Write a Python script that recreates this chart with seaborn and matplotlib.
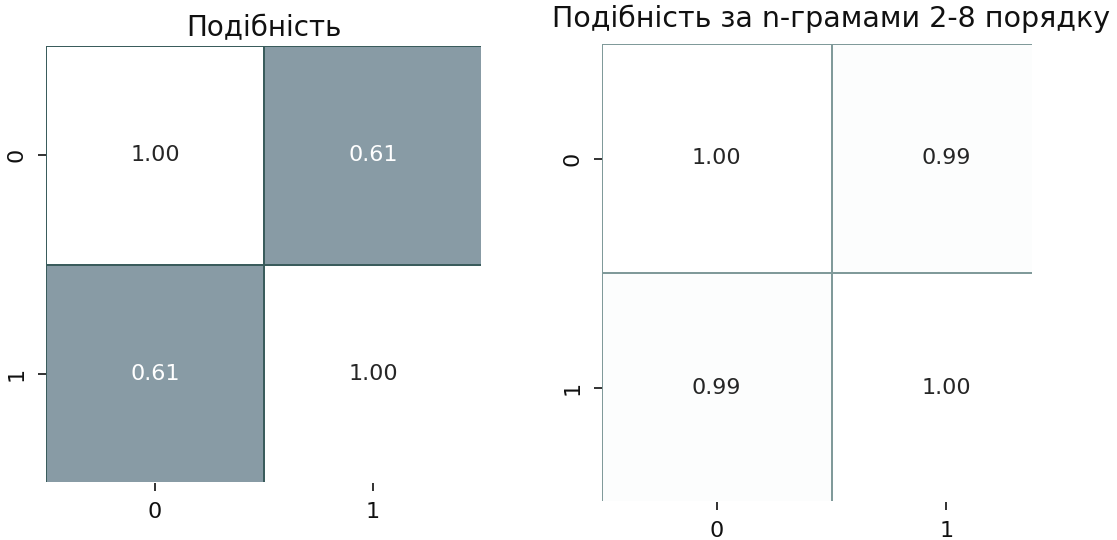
import numpy as np
import matplotlib
matplotlib.use("Agg")
import matplotlib.pyplot as plt
import seaborn as sns
from matplotlib.colors import LinearSegmentedColormap
from matplotlib.transforms import Bbox, TransformedBbox

# similarity matrices
labels = ["0", "1"]
sim_plain = [[1.00, 0.61],
             [0.61, 1.00]]
sim_ngram = [[1.00, 0.99],
             [0.99, 1.00]]

titles = ["Подібність", "Подібність за n-грамами 2-8 порядку"]

sns.set_theme(style="white")
plt.rcParams["font.family"] = ["DejaVu Sans"]

cmap = LinearSegmentedColormap.from_list("sim", ["#889ba5", "#ffffff"])
vmin = float(np.min(sim_plain))

W, H = 1117, 540
fig = plt.figure(figsize=(W / 100, H / 100), dpi=100)
ax1 = fig.add_axes([46 / W, 1 - 483 / H, 436 / W, 437 / H])
ax2 = fig.add_axes([602 / W, 1 - 502 / H, 459 / W, 458 / H])

line_colors = ["#3a5c5c", "#809a9a"]
title_pads = [7, 12]
title_sizes = [20, 20.5]
# visible part of each mesh (axes fraction), right and bottom edges trimmed
clip_right = [1 - 1.2 / 436, (1032 - 602) / 459]
clip_bottom = [1.2 / 437, 1.2 / 458]

for i, (ax, mat, title) in enumerate(zip([ax1, ax2], [sim_plain, sim_ngram], titles)):
    sns.heatmap(np.array(mat), ax=ax, annot=True, fmt=".2f", cmap=cmap,
                vmin=vmin, vmax=1.0, cbar=False, linewidths=1.1,
                linecolor=line_colors[i], xticklabels=labels, yticklabels=labels,
                annot_kws={"fontsize": 16})
    ax.set_title(title, fontsize=title_sizes[i], pad=title_pads[i], color="#111111")
    ax.tick_params(axis="both", labelsize=16, length=6, width=1.3,
                   pad=8, bottom=True, left=True, color="#222222",
                   labelcolor="#111111")
    plt.setp(ax.get_yticklabels(), rotation=90, va="center")
    plt.setp(ax.get_xticklabels(), rotation=0)
    mesh = ax.collections[0]
    mesh.set_clip_box(TransformedBbox(
        Bbox([[0, clip_bottom[i]], [clip_right[i], 1]]), ax.transAxes))

fig.savefig("out.png", dpi=100)
